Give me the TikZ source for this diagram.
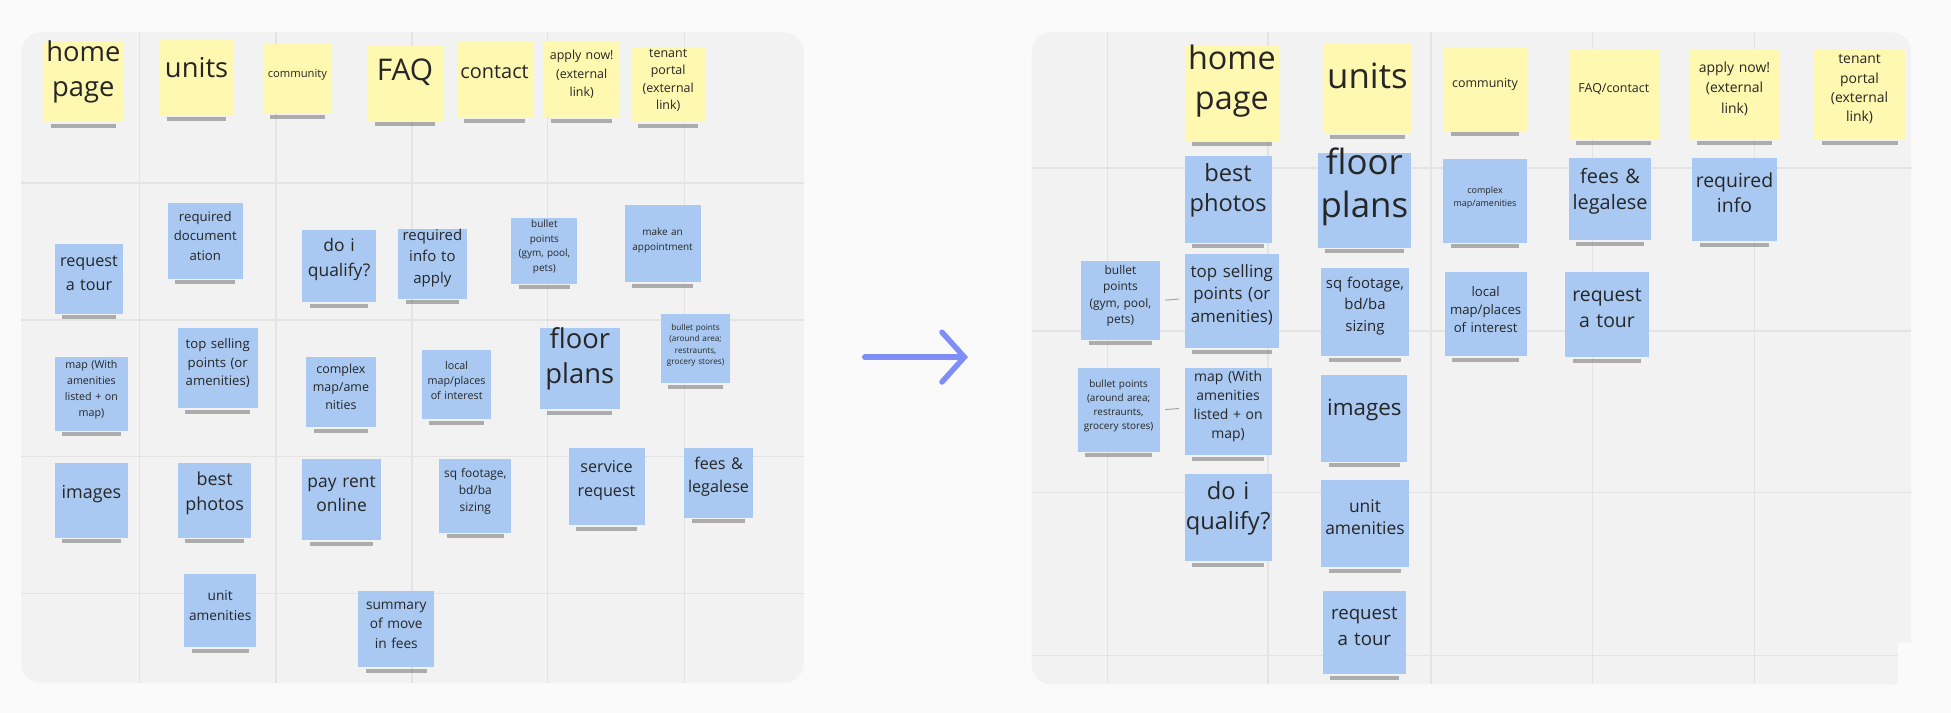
\documentclass[tikz,border=0pt]{standalone}
\usepackage{fontspec}
\setmainfont{Open Sans}
\usetikzlibrary{fit,arrows.meta}

\definecolor{pagebg}{HTML}{FAFAFA}
\definecolor{boardbg}{HTML}{F2F2F2}
\definecolor{gridln}{HTML}{E3E3E3}
\definecolor{noteyel}{HTML}{FFF8B0}
\definecolor{noteblu}{HTML}{A9C9F2}
\definecolor{arrowblu}{HTML}{7E8EF6}

\tikzset{
  board/.style={fill=boardbg, rounded corners=8},
  gridline/.style={draw=gridln, line width=0.6},
  yel/.style={fill=noteyel},
  blu/.style={fill=noteblu},
  link/.style={draw=black!35, line width=0.4},
}

% name, x1, y1, x2, y2, style, text
\newcommand\sticky[7]{%
  \draw[black!55, line width=1.6pt, opacity=0.55] ($(#2,#5)+(6,3)$) -- ($(#4,#5)+(-6,3)$);
  \node[#6, fit={(#2,#3)(#4,#5)}, inner sep=0, align=center, text=black!85] (#1) {#7};
}
\usetikzlibrary{calc}

\begin{document}
\begin{tikzpicture}[x=0.5pt,y=-0.5pt]
\fill[pagebg] (0,0) rectangle (1568,573);
\useasboundingbox (0,0) rectangle (1568,573);

% left board
\fill[board] (17,26) rectangle (646,549);
\begin{scope}
\clip[rounded corners=8] (17,26) rectangle (646,549);
\foreach \x in {112,222,331,440,550} \draw[gridline] (\x,26) -- (\x,549);
\foreach \y in {147,257,367,477} \draw[gridline] (17,\y) -- (646,\y);
\end{scope}

% right board
\fill[board] (829,26) rectangle (1536,550);
\begin{scope}
\clip[rounded corners=8] (829,26) rectangle (1536,550);
\foreach \x in {890,1019,1150,1280,1410} \draw[gridline] (\x,26) -- (\x,550);
\foreach \y in {135,266,396,527} \draw[gridline] (829,\y) -- (1536,\y);
\end{scope}
\fill[pagebg] (1525,517) rectangle (1537,551);

% left: top row
\sticky{lhome}{35}{34}{99}{98}{yel,font=\fontsize{11}{14}\selectfont}{home\\page}
\sticky{lunits}{128}{32}{188}{93}{yel,font=\fontsize{11}{14}\selectfont}{units}
\sticky{lcomm}{211}{35}{267}{91}{yel,font=\fontsize{4.5}{6}\selectfont}{community}
\sticky{lfaq}{295}{37}{356}{97}{yel,font=\fontsize{12}{14}\selectfont}{FAQ}
\sticky{lcontact}{367}{33}{428}{94}{yel,font=\fontsize{8}{10}\selectfont}{contact}
\sticky{lapply}{437}{33}{498}{94}{yel,font=\fontsize{5}{7.5}\selectfont}{apply now!\\(external\\link)}
\sticky{ltenant}{507}{38}{567}{98}{yel,font=\fontsize{5}{7}\selectfont}{tenant\\portal\\(external\\link)}

% left: blue notes
\sticky{ltour}{44}{196}{99}{252}{blu,font=\fontsize{6.5}{9.5}\selectfont}{request\\a tour}
\sticky{ldocs}{135}{163}{195}{224}{blu,font=\fontsize{5.3}{7.8}\selectfont}{required\\document\\ation}
\sticky{lqual}{243}{185}{302}{243}{blu,font=\fontsize{7}{10}\selectfont}{do i\\qualify?}
\sticky{lreq}{320}{184}{375}{240}{blu,font=\fontsize{6}{8.5}\selectfont}{required\\info to\\apply}
\sticky{lgym}{411}{175}{464}{228}{blu,font=\fontsize{4}{5.8}\selectfont}{bullet\\points\\(gym, pool,\\pets)}
\sticky{lappt}{502}{165}{563}{227}{blu,font=\fontsize{4}{6}\selectfont}{make an\\appointment\\[10pt]}
\sticky{lmap}{44}{287}{103}{346}{blu,font=\fontsize{4.3}{6.5}\selectfont}{map (With\\amenities\\listed + on\\map)}
\sticky{ltop}{143}{264}{207}{328}{blu,font=\fontsize{5.3}{7.5}\selectfont}{top selling\\points (or\\amenities)}
\sticky{lcomplex}{246}{287}{302}{343}{blu,font=\fontsize{5}{7.2}\selectfont}{complex\\map/ame\\nities}
\sticky{llocal}{339}{281}{395}{337}{blu,font=\fontsize{4.3}{6.2}\selectfont}{local\\map/places\\of interest}
\sticky{lfloor}{434}{264}{498}{329}{blu,font=\fontsize{11}{14}\selectfont}{floor\\plans}
\sticky{larea}{531}{252}{587}{308}{blu,font=\fontsize{3.3}{4.5}\selectfont}{bullet points\\(around area;\\restraunts,\\grocery stores)\\[6pt]}
\sticky{limages}{44}{372}{103}{432}{blu,font=\fontsize{7.2}{10}\selectfont}{images}
\sticky{lphotos}{143}{372}{202}{432}{blu,font=\fontsize{7.2}{10}\selectfont}{best\\photos}
\sticky{lrent}{243}{369}{306}{434}{blu,font=\fontsize{7}{10}\selectfont}{pay rent\\online}
\sticky{lsq}{353}{369}{411}{428}{blu,font=\fontsize{4.8}{6.8}\selectfont}{sq footage,\\bd/ba\\sizing}
\sticky{lservice}{457}{360}{518}{422}{blu,font=\fontsize{6.5}{9.5}\selectfont}{service\\request}
\sticky{lfees}{550}{360}{605}{416}{blu,font=\fontsize{6.5}{9.5}\selectfont}{fees \&\\legalese}
\sticky{lunitam}{148}{461}{206}{520}{blu,font=\fontsize{5.5}{8}\selectfont}{unit\\amenities}
\sticky{lsummary}{288}{475}{349}{536}{blu,font=\fontsize{5.5}{8}\selectfont}{summary\\of move\\in fees}

% middle arrow
\coordinate (arrowA) at (695,287);
\coordinate (arrowB) at (778,287);
\draw[arrowblu, line width=2.2pt, -{Straight Barb[length=9pt,width=20pt,line cap=round]}, line cap=round] (arrowA) -- (arrowB);

% right: top row
\sticky{rhome}{952}{37}{1028}{113}{yel,font=\fontsize{13}{16}\selectfont}{home\\page}
\sticky{runits}{1063}{35}{1135}{107}{yel,font=\fontsize{14}{16}\selectfont}{units}
\sticky{rcomm}{1160}{38}{1227}{105}{yel,font=\fontsize{5}{7}\selectfont}{community}
\sticky{rfaq}{1261}{39}{1333}{112}{yel,font=\fontsize{5}{7}\selectfont}{FAQ/contact}
\sticky{rapply}{1358}{39}{1430}{112}{yel,font=\fontsize{5.6}{8.2}\selectfont}{apply now!\\(external\\link)}
\sticky{rtenant}{1458}{39}{1531}{112}{yel,font=\fontsize{5.6}{7.8}\selectfont}{tenant\\portal\\(external\\link)}

% right: blue notes
\sticky{rphotos}{952}{125}{1022}{195}{blu,font=\fontsize{9.5}{12}\selectfont}{best\\photos}
\sticky{rfloor}{1059}{123}{1134}{199}{blu,font=\fontsize{14}{17}\selectfont}{floor\\plans}
\sticky{rcomplex}{1160}{128}{1227}{195}{blu,font=\fontsize{3.6}{5.2}\selectfont}{complex\\map/amenities}
\sticky{rfees}{1261}{127}{1327}{193}{blu,font=\fontsize{8}{10.5}\selectfont}{fees \&\\legalese}
\sticky{rinfo}{1360}{127}{1428}{194}{blu,font=\fontsize{7.8}{10}\selectfont}{required\\info}
\sticky{rgym}{869}{210}{932}{273}{blu,font=\fontsize{4.8}{6.5}\selectfont}{bullet\\points\\(gym, pool,\\pets)}
\sticky{rtop}{952}{204}{1028}{280}{blu,font=\fontsize{6.8}{9}\selectfont}{top selling\\points (or\\amenities)}
\sticky{rsq}{1062}{215}{1132}{286}{blu,font=\fontsize{6}{8.5}\selectfont}{sq footage,\\bd/ba\\sizing}
\sticky{rlocal}{1161}{219}{1227}{286}{blu,font=\fontsize{5.3}{7.2}\selectfont}{local\\map/places\\of interest}
\sticky{rtour}{1258}{219}{1325}{287}{blu,font=\fontsize{7.8}{10.5}\selectfont}{request\\a tour}
\sticky{rarea}{866}{296}{932}{363}{blu,font=\fontsize{4}{5.6}\selectfont}{bullet points\\(around area;\\restraunts,\\grocery stores)}
\sticky{rmap}{952}{296}{1022}{366}{blu,font=\fontsize{5.6}{7.6}\selectfont}{map (With\\amenities\\listed + on\\map)}
\sticky{rimages}{1062}{301}{1131}{371}{blu,font=\fontsize{9}{12}\selectfont}{images}
\sticky{rqual}{952}{381}{1022}{451}{blu,font=\fontsize{9.5}{12}\selectfont}{do i\\qualify?}
\sticky{runitam}{1062}{386}{1132}{456}{blu,font=\fontsize{7}{9}\selectfont}{unit\\amenities}
\sticky{rtour2}{1063}{475}{1130}{542}{blu,font=\fontsize{7.5}{10.5}\selectfont}{request\\a tour}

% links
\draw[link, shorten <=2, shorten >=2] (rgym.east) -- ([yshift=1]rtop.west);
\draw[link, shorten <=2, shorten >=2] (rarea.east) -- ([yshift=1.5]rmap.west);

\end{tikzpicture}
\end{document}
